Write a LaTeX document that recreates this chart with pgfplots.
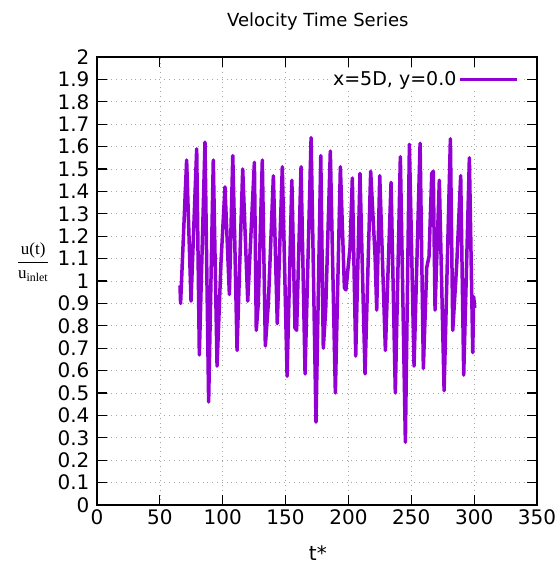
\documentclass[border=0pt]{standalone}
\usepackage{amsmath}
\usepackage{fontspec}
\setmainfont{DejaVu Sans}
\newfontfamily\serif{Liberation Serif}
\usepackage{pgfplots}
\pgfplotsset{compat=1.18}
\definecolor{dviolet}{RGB}{148,0,211}

\begin{document}
\begin{tikzpicture}
\useasboundingbox (-97pt,-62pt) rectangle (461pt,505pt);
\begin{axis}[
  scale only axis, width=440pt, height=448pt,
  xmin=0, xmax=350, ymin=0, ymax=2,
  xtick distance=50, ytick distance=0.1,
  tick align=inside, major tick length=10pt,
  axis line style={line width=1.2pt}, every tick/.style={black, line width=1.2pt},
  grid=major, grid style={gray!70, line width=0.7pt, dash pattern=on 0.8pt off 4pt},
  /pgf/number format/assume math mode=true,
  yticklabel style={/pgf/number format/fixed, /pgf/number format/precision=1},
  ticklabel style={font=\fontsize{20}{24}\selectfont},
  xticklabel style={yshift=-1pt},
  yticklabel style={xshift=-4pt},
  title={Velocity Time Series},
  title style={at={(axis description cs:0.502,1.065)}, anchor=center, font=\fontsize{18}{22}\selectfont},
  xlabel={t*},
  xlabel style={at={(axis description cs:0.502,-0.108)}, anchor=center, font=\fontsize{20}{24}\selectfont},
  ylabel={$\dfrac{\text{\serif u(t)}}{\text{\serif u}_{\text{\serif inlet}}}$},
  ylabel style={at={(axis description cs:-0.145,0.542)}, anchor=center, rotate=-90, font=\fontsize{17}{20}\selectfont},
  legend plot pos=right, legend cell align=right,
  legend style={at={(axis description cs:0.965,0.95)}, anchor=east, draw=none, fill=white,
    inner xsep=3pt, inner ysep=1pt, font=\fontsize{19}{22}\selectfont},
  legend image code/.code={\draw[#1, line width=3pt] (0pt,0pt) -- (57pt,0pt);},
]
\addplot[color=dviolet, line width=3.5pt, line join=round] coordinates {
(66.0,0.98) (66.5,0.90) (71.3,1.54) (74.8,0.91) (79.3,1.59) (81.4,0.67)
(85.9,1.62) (88.8,0.46) (92.5,1.54) (95.5,0.62) (98.6,1.08) (101.8,1.42)
(105.3,0.94) (108.0,1.56) (109.5,1.20) (111.4,0.69) (115.9,1.50) (119.9,0.91)
(125.2,1.53) (126.7,0.78) (128.3,0.90) (131.5,1.54) (133.9,0.71) (136.3,0.90)
(140.3,1.47) (143.4,0.81) (147.4,1.51) (151.2,0.575) (155.0,1.45) (157.5,0.79)
(158.8,0.78) (162.3,1.51) (165.5,0.585) (170.3,1.64) (174.2,0.37) (178.0,1.56)
(180.0,0.70) (181.9,0.87) (185.6,1.58) (189.6,0.50) (193.6,1.51) (196.8,0.97)
(198.0,0.96) (201.3,1.15) (203.1,1.46) (205.8,0.665) (209.2,1.48) (213.2,0.585)
(217.7,1.49) (221.2,1.11) (222.5,0.87) (224.9,1.47) (229.4,0.69) (233.9,1.44)
(237.3,0.50) (241.3,1.555) (245.3,0.28) (248.5,1.61) (252.2,0.62) (257.0,1.615)
(259.6,0.61) (262.3,1.06) (264.1,1.11) (266.3,1.48) (267.5,1.49) (268.9,0.87)
(272.3,1.45) (276.1,0.51) (281.1,1.635) (283.0,0.78) (286.2,1.08) (289.3,1.47)
(291.7,0.58) (296.2,1.55) (298.9,0.68) (299.6,0.93) (300.5,0.88)
};
\addlegendentry{x=5D, y=0.0}
\end{axis}
\end{tikzpicture}
\end{document}
